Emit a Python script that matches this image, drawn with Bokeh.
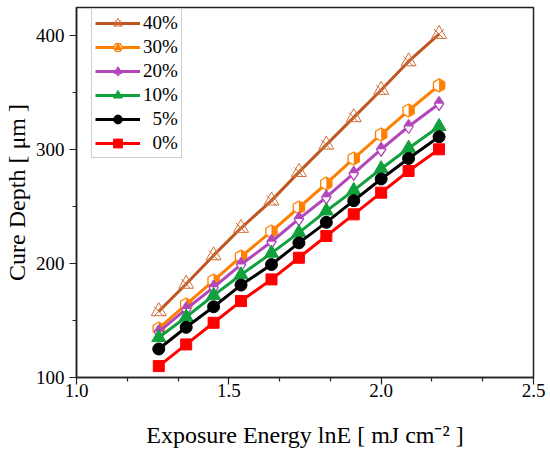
import numpy as np
from bokeh.plotting import figure
from bokeh.models import (Legend, LegendItem, FixedTicker, Range1d,
                          PrintfTickFormatter)
from bokeh.embed import file_html
from bokeh.resources import INLINE

# ---------------- data ----------------
lnE = [1.27, 1.36, 1.45, 1.54, 1.64, 1.73, 1.82, 1.91, 2.00, 2.09, 2.19]
depth_0 = [110, 129, 148, 167, 186, 205, 224, 243, 262, 281, 300]
depth_5 = [125, 144, 162, 181, 199, 218, 236, 255, 274, 292, 311]
depth_10 = [135, 153, 172, 190, 209, 227, 246, 264, 283, 301, 320]
depth_20 = [140, 160, 179, 199, 219, 239, 258, 279, 300, 320, 340]
depth_30 = [143, 164, 185, 206, 228, 249, 270, 292, 313, 334, 356]
depth_40 = [158, 182, 207, 231, 255, 280, 304, 328, 352, 377, 401]
labels = ["40%", "30%", "20%", "10%", "\u20075%", "\u20070%"]
x_ticks = [1.0, 1.5, 2.0, 2.5]
y_ticks = [100, 200, 300, 400]
x_label = "Exposure Energy lnE [ mJ cm\u207b\u00b2 ]"
y_label = "Cure Depth [ \u03bcm ]"

# ---------------- styling ----------------
FONT = "'Liberation Serif', 'Times New Roman', serif"
AX = "#222222"
c40_line, c40_mark = "#C0561F", "#D2703C"
c30 = "#FF8000"
c20 = "#B246BA"
c10 = "#10A03C"
c5 = "#000000"
c0 = "#FF0000"

FW, FH = 457, 370
XR = (1.0, 2.5)
YR = (100, 424.3)

p = figure(frame_width=FW, frame_height=FH,
           x_range=Range1d(*XR), y_range=Range1d(*YR),
           output_backend="svg", toolbar_location=None,
           min_border_left=76, min_border_right=17,
           min_border_top=7, min_border_bottom=79)
p.xgrid.visible = False
p.ygrid.visible = False
p.outline_line_color = AX
p.outline_line_width = 1.5
p.background_fill_color = "white"
p.border_fill_color = "white"

x_minor = []
for a, b in zip(x_ticks[:-1], x_ticks[1:]):
    x_minor += [a + (b - a) / 3, a + 2 * (b - a) / 3]
y_minor = [(a + b) / 2 for a, b in zip(y_ticks[:-1], y_ticks[1:])]

p.xaxis.ticker = FixedTicker(ticks=x_ticks, minor_ticks=x_minor)
p.yaxis.ticker = FixedTicker(ticks=y_ticks, minor_ticks=y_minor)
p.xaxis.formatter = PrintfTickFormatter(format="%.1f")
p.yaxis.formatter = PrintfTickFormatter(format="%d")
p.xaxis.axis_label = x_label
p.yaxis.axis_label = y_label

for ax in (p.xaxis[0], p.yaxis[0]):
    ax.axis_line_color = AX
    ax.axis_line_width = 1.5
    ax.major_tick_line_color = AX
    ax.minor_tick_line_color = AX
    ax.major_tick_line_width = 1.2
    ax.minor_tick_line_width = 1.2
    ax.major_tick_in = 0
    ax.major_tick_out = 7
    ax.minor_tick_in = 0
    ax.minor_tick_out = 4
    ax.major_label_text_font = FONT
    ax.major_label_text_font_size = "19px"
    ax.major_label_text_font_style = "normal"
    ax.major_label_text_color = "black"
    ax.axis_label_text_font = FONT
    ax.axis_label_text_font_size = "24px"
    ax.axis_label_text_font_style = "normal"
    ax.axis_label_text_color = "black"
p.xaxis.major_label_standoff = -1
p.yaxis.major_label_standoff = 5
p.xaxis.axis_label_standoff = 22
p.yaxis.axis_label_standoff = 3

# pixel -> data conversion for the half-filled marker parts
dxp = (XR[1] - XR[0]) / FW
dyp = (YR[1] - YR[0]) / FH

LW = 3
items = []

# 40 %
l = p.line(lnE, depth_40, line_color=c40_line, line_width=LW)
m1 = p.scatter(lnE, depth_40, marker="triangle", size=15, fill_color=None,
               line_color=c40_mark, line_width=1)
m2 = p.scatter(lnE, depth_40, marker="x", size=14, line_color=c40_mark,
               line_width=1)
items.append(LegendItem(label=labels[0], renderers=[l, m1, m2]))

# 30 %  (hexagon, right half filled)
S30 = 13
l = p.line(lnE, depth_30, line_color=c30, line_width=LW)
m1 = p.scatter(lnE, depth_30, marker="hex", angle=np.pi / 2, size=S30,
               fill_color="white", line_color=c30, line_width=1.3)
r = S30 / 2 * 0.95
hxs, hys = [], []
for xv, yv in zip(lnE, depth_30):
    hxs.append([xv, xv + 0.866 * r * dxp, xv + 0.866 * r * dxp, xv])
    hys.append([yv + r * dyp, yv + 0.5 * r * dyp, yv - 0.5 * r * dyp, yv - r * dyp])
p.patches(hxs, hys, fill_color=c30, line_color=None)
m2 = p.scatter(lnE, depth_30, marker="triangle", angle=-np.pi / 2, size=9,
               fill_color=c30, line_color=None, visible=False)
items.append(LegendItem(label=labels[1], renderers=[l, m1, m2]))

# 20 %  (diamond, top half filled)
S20 = 14
l = p.line(lnE, depth_20, line_color=c20, line_width=LW)
m1 = p.scatter(lnE, depth_20, marker="diamond", size=S20,
               fill_color="white", line_color=c20, line_width=1.3)
r = S20 / 2 * 0.95
dxs, dys = [], []
for xv, yv in zip(lnE, depth_20):
    dxs.append([xv - r / 1.5 * dxp, xv, xv + r / 1.5 * dxp])
    dys.append([yv, yv + r * dyp, yv])
p.patches(dxs, dys, fill_color=c20, line_color=None)
m2 = p.scatter(lnE, depth_20, marker="triangle", size=7,
               fill_color=c20, line_color=None, visible=False)
items.append(LegendItem(label=labels[2], renderers=[l, m1, m2]))

# 10 %
l = p.line(lnE, depth_10, line_color=c10, line_width=LW)
m1 = p.scatter(lnE, depth_10, marker="triangle", size=14,
               fill_color=c10, line_color=c10)
items.append(LegendItem(label=labels[3], renderers=[l, m1]))

# 5 %
l = p.line(lnE, depth_5, line_color=c5, line_width=LW)
m1 = p.scatter(lnE, depth_5, marker="circle", size=12,
               fill_color=c5, line_color=c5)
items.append(LegendItem(label=labels[4], renderers=[l, m1]))

# 0 %
l = p.line(lnE, depth_0, line_color=c0, line_width=LW)
m1 = p.scatter(lnE, depth_0, marker="square", size=11,
               fill_color=c0, line_color=c0)
items.append(LegendItem(label=labels[5], renderers=[l, m1]))

legend = Legend(items=items, location=(15, 219),
                glyph_width=45, glyph_height=22, label_height=22,
                spacing=2, padding=3, label_standoff=3,
                label_text_font=FONT, label_text_font_size="19px",
                label_text_font_style="normal",
                label_text_color="black",
                border_line_color="#A0A0A0", border_line_width=1,
                background_fill_color="white", background_fill_alpha=1)
p.add_layout(legend, "center")

open("out.html", "w").write(file_html(p, INLINE))
